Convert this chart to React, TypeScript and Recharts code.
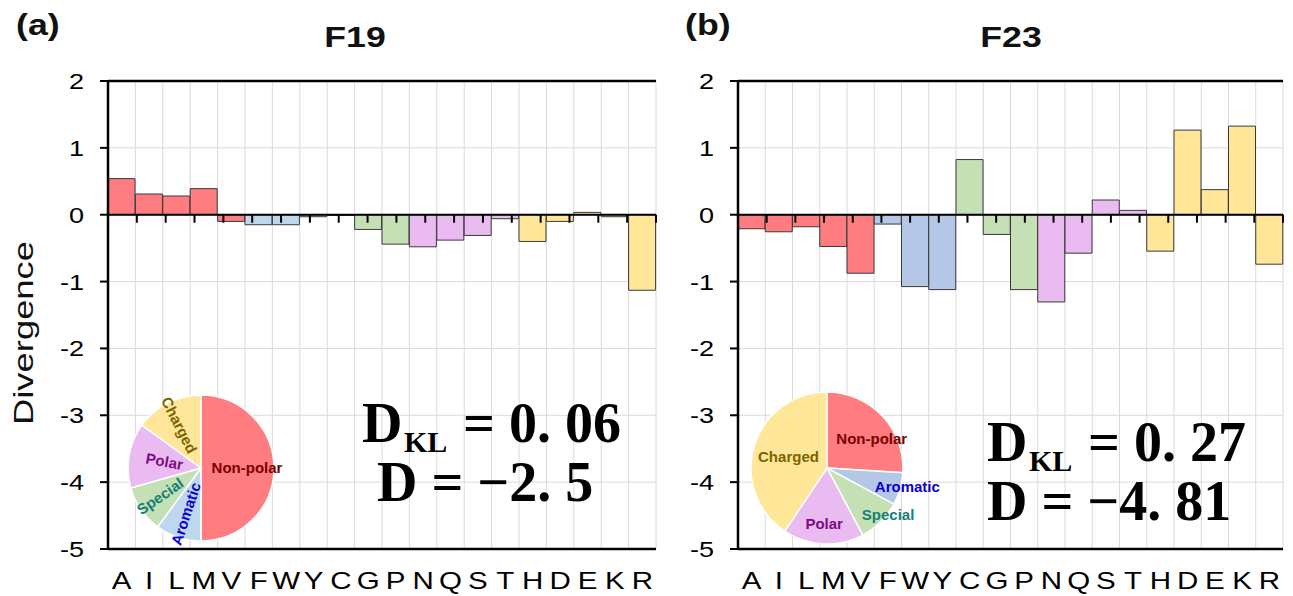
import React from 'react';
import { BarChart, Bar, XAxis, YAxis, CartesianGrid, ReferenceLine, Cell, PieChart, Pie } from 'recharts';

// amino acids along the x axis, grouped by class
const residues = ['A', 'I', 'L', 'M', 'V', 'F', 'W', 'Y', 'C', 'G', 'P', 'N', 'Q', 'S', 'T', 'H', 'D', 'E', 'K', 'R'];
const residueGroup = [0, 0, 0, 0, 0, 1, 1, 1, 2, 2, 2, 3, 3, 3, 3, 4, 4, 4, 4, 4];
const groups = ['Non-polar', 'Aromatic', 'Special', 'Polar', 'Charged'];

const f19Divergence = [0.54, 0.31, 0.28, 0.39, -0.1, -0.15, -0.15, -0.03, -0.01, -0.22, -0.44, -0.48, -0.38, -0.31, -0.06, -0.4, -0.1, 0.035, -0.03, -1.13];
const f23Divergence = [-0.21, -0.255, -0.18, -0.475, -0.875, -0.14, -1.075, -1.12, 0.825, -0.295, -1.12, -1.305, -0.575, 0.22, 0.065, -0.545, 1.265, 0.375, 1.325, -0.74];

const f19Composition = [50, 10.1, 10.5, 14.4, 15];
const f23Composition = [26, 6.9, 9.3, 17.2, 40.6];

const yTicks = [2, 1, 0, -1, -2, -3, -4, -5];

const SANS = "'Liberation Sans', Arial, Helvetica, sans-serif";
const SERIF = "'Liberation Serif', 'Times New Roman', serif";
const STRETCH = 1.23;

const colorsF19 = ['#ff7c80', '#bdd7ee', '#c5e0b4', '#e9bbf0', '#ffe699'];
const colorsF23 = ['#ff7c80', '#b4c7e7', '#c5e0b4', '#e9bbf0', '#ffe699'];
const labelColors = ['#7a0000', '#0a00d0', '#137f7a', '#7d0a86', '#7a6400'];

const XTick = (p: any) => (
  <text transform={`translate(${p.x},${p.y}) scale(${STRETCH},1)`} textAnchor="middle" dy="0.71em" fontSize={24} fontFamily={SANS} fill="#000">
    {p.payload.value}
  </text>
);

const YTick = (p: any) => (
  <text transform={`translate(${p.x},${p.y}) scale(${STRETCH},1)`} textAnchor="end" dy="0.36em" fontSize={22} fontFamily={SANS} fill="#000">
    {p.payload.value}
  </text>
);

const boundaries = ({ offset }: any) => {
  const out: number[] = [];
  for (let i = 0; i <= residues.length; i++) out.push(offset.left + (i * offset.width) / residues.length);
  return out;
};

function DivergencePanel({ values, colors, left, width, marginLeft, marginRight }: any) {
  const data = residues.map((r, i) => ({ residue: r, value: values[i], group: residueGroup[i] }));
  return (
    <div style={{ position: 'absolute', left, top: 0 }}>
      <BarChart width={width} height={596} data={data} margin={{ top: 81, right: marginRight, bottom: 7, left: marginLeft }} barCategoryGap={0} barGap={0}>
        <CartesianGrid stroke="#dadada" strokeWidth={1} verticalCoordinatesGenerator={boundaries} />
        <XAxis dataKey="residue" interval={0} tickLine={false} tickSize={0} tickMargin={23} height={40} axisLine={{ stroke: '#000', strokeWidth: 2.5 }} tick={XTick} />
        <XAxis xAxisId="edges" type="number" domain={[0, residues.length]} hide />
        <YAxis domain={[-5, 2]} ticks={yTicks} width={60} tickSize={8} tickMargin={16} allowDataOverflow tickLine={{ stroke: '#000', strokeWidth: 2 }} axisLine={{ stroke: '#000', strokeWidth: 2.5 }} tick={YTick} />
        <YAxis yAxisId="frame" orientation="right" domain={[-5, 2]} width={0} tick={false} tickLine={false} axisLine={{ stroke: '#000', strokeWidth: 2 }} />
        <ReferenceLine y={2} stroke="#000" strokeWidth={2.5} />
        <Bar dataKey="value" isAnimationActive={false} stroke="#3a3a3a" strokeWidth={1}>
          {data.map((d) => (
            <Cell key={d.residue} fill={colors[d.group]} />
          ))}
        </Bar>
        <ReferenceLine y={0} stroke="#000" strokeWidth={2} />
        {residues.slice(1).map((r, i) => (
          <ReferenceLine key={r} xAxisId="edges" segment={[{ x: i + 1, y: 0 }, { x: i + 1, y: -0.12 }]} stroke="#000" strokeWidth={2} />
        ))}
      </BarChart>
    </div>
  );
}

const f19LabelPos = [
  { r: 0.63, dx: 0, dy: 0 },
  { r: 0.66, dx: 0, dy: 0 },
  { r: 0.68, dx: 0, dy: 0 },
  { r: 0.51, dx: 0, dy: 0 },
  { r: 0.66, dx: 0, dy: 0 },
];
const f23LabelPos = [
  { r: 0.7, dx: 6, dy: 7 },
  { r: 1.1, dx: 0, dy: -4 },
  { r: 1.01, dx: 7, dy: -8 },
  { r: 0.74, dx: 0, dy: 0 },
  { r: 0.53, dx: 0, dy: 0 },
];

const makeLabel = (pos: any[], radial: boolean) => (p: any) => {
  const lp = pos[p.index];
  const rad = (-p.midAngle * Math.PI) / 180;
  const x = p.cx + Math.cos(rad) * p.outerRadius * lp.r + lp.dx;
  const y = p.cy + Math.sin(rad) * p.outerRadius * lp.r + lp.dy;
  let rot = 0;
  if (radial) {
    rot = -p.midAngle;
    while (rot > 90) rot -= 180;
    while (rot < -90) rot += 180;
  }
  return (
    <text key={p.index} transform={`translate(${x},${y}) rotate(${rot})`} textAnchor="middle" dy="0.35em" fill={labelColors[p.index]} fontSize={15} fontWeight="bold" fontFamily={SANS}>
      {groups[p.index]}
    </text>
  );
};

function CompositionPie({ values, colors, left, top, radius, pos, radial }: any) {
  const data = groups.map((g, i) => ({ name: g, value: values[i] }));
  return (
    <div style={{ position: 'absolute', left, top }}>
      <PieChart width={260} height={200} margin={{ top: 0, right: 0, bottom: 0, left: 0 }}>
        <Pie data={data} dataKey="value" cx={100} cy={100} outerRadius={radius} startAngle={90} endAngle={-270} stroke="#fff" strokeWidth={1.5} labelLine={false} label={makeLabel(pos, radial)} isAnimationActive={false}>
          {data.map((d, i) => (
            <Cell key={d.name} fill={colors[i]} />
          ))}
        </Pie>
      </PieChart>
    </div>
  );
}

// D_KL / D summary written over each panel
function Stats({ x, y, dkl, d, line2Dx }: any) {
  return (
    <g fontFamily={SERIF} fontWeight="bold" fill="#000">
      <text x={x} y={y} fontSize={56}>D</text>
      <text x={x + 42} y={y + 10} fontSize={30}>KL</text>
      <text x={x + 101} y={y} fontSize={56}>{`= ${dkl}`}</text>
      <text x={x + line2Dx} y={y + 59} fontSize={56}>{`D = −${d}`}</text>
    </g>
  );
}

export default function App() {
  return (
    <div style={{ position: 'absolute', left: 0, top: 0, width: 1293, height: 596, background: '#fff', overflow: 'hidden' }}>
      <DivergencePanel values={f19Divergence} colors={colorsF19} left={0} width={670} marginLeft={48} marginRight={14} />
      <DivergencePanel values={f23Divergence} colors={colorsF23} left={640} width={653} marginLeft={38} marginRight={10} />
      <CompositionPie values={f19Composition} colors={colorsF19} left={101} top={368} radius={73} pos={f19LabelPos} radial />
      <CompositionPie values={f23Composition} colors={colorsF23} left={727} top={368} radius={76} pos={f23LabelPos} radial={false} />
      <svg width={1293} height={596} style={{ position: 'absolute', left: 0, top: 0, pointerEvents: 'none' }}>
        <g fontFamily={SANS} fontWeight="bold" fill="#111">
          <text transform={`translate(16,35) scale(${STRETCH},1)`} fontSize={29}>(a)</text>
          <text transform={`translate(685,35) scale(${STRETCH},1)`} fontSize={29}>(b)</text>
          <text transform={`translate(355,47) scale(${STRETCH},1)`} fontSize={29} textAnchor="middle">F19</text>
          <text transform={`translate(1011,47) scale(${STRETCH},1)`} fontSize={29} textAnchor="middle">F23</text>
        </g>
        <text transform="translate(33,333) rotate(-90) scale(1.3,1)" fontSize={28} fontFamily={SANS} textAnchor="middle" fill="#111">Divergence</text>
        <Stats x={362} y={442} dkl="0. 06" d="2. 5" line2Dx={15} />
        <Stats x={987} y={461} dkl="0. 27" d="4. 81" line2Dx={0} />
      </svg>
    </div>
  );
}
